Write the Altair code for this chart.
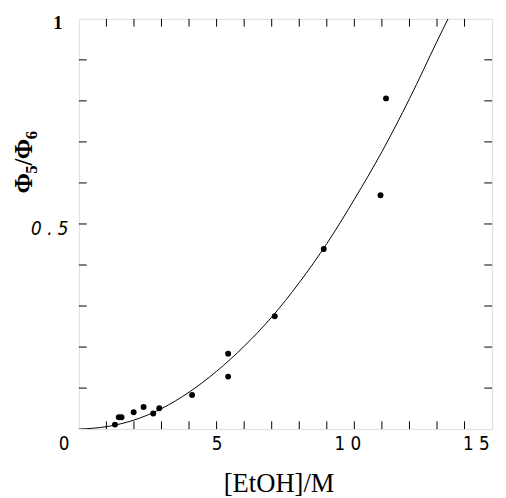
import altair as alt
import pandas as pd

# measured data points
pt_x = [1.31, 1.45, 1.55, 1.99, 2.35, 2.70, 2.92, 4.11, 5.42, 5.42, 7.11, 8.89, 10.95, 11.15]
pt_y = [0.011, 0.029, 0.029, 0.041, 0.054, 0.038, 0.051, 0.083, 0.184, 0.128, 0.275, 0.439, 0.570, 0.806]

# fitted curve
cv_x = [0, 1, 2, 3, 4, 5, 6, 7, 8, 9, 10, 11, 12, 13, 13.4]
cv_y = [0, 0.006, 0.022, 0.050, 0.090, 0.141, 0.202, 0.273, 0.357, 0.452, 0.560, 0.676, 0.805, 0.945, 1.0]

# minor tick positions
x_ticks = list(range(1, 15))
y_ticks = [0.1, 0.2, 0.3, 0.4, 0.5, 0.6, 0.7, 0.8, 0.9]

# labelled values
x_label_vals = [0, 5, 10, 15]
y_label_vals = [0.5, 1]

# y title pieces: Φ 5 / Φ 6 (subscripts)
title_parts = ["Φ", "5", "/", "Φ", "6"]
title_sub = [False, True, False, False, True]

W, H = 420, 417
T = 8
NARROW = "Liberation Sans Narrow, DejaVu Sans Condensed, sans-serif"
SERIF = "Liberation Serif, DejaVu Serif, serif"

pts = pd.DataFrame({"x": pt_x, "y": pt_y})
cv = pd.DataFrame({"x": cv_x, "y": cv_y})
xt = pd.DataFrame({"t": x_ticks})
yt = pd.DataFrame({"t": y_ticks})

xs = alt.Scale(domain=[0, 15], nice=False, zero=False)
ys = alt.Scale(domain=[0, 1], nice=False, zero=False)

x_axis = alt.Axis(
    values=x_label_vals, ticks=False, domain=False, grid=False,
    labelExpr="datum.value == 0 ? '0' : datum.value == 5 ? '5' : datum.value == 10 ? '1  0' : '1  5'",
    labelFont=NARROW, labelFontSize=19, labelColor="black", labelPadding=15,
    labelBaseline="middle",
    labelOffset={"condition": [{"test": "datum.value == 0", "value": -21},
                               {"test": "datum.value == 10", "value": -7},
                               {"test": "datum.value == 15", "value": -3}],
                 "value": 0},
    title="[EtOH]/M", titleFont=SERIF, titleFontSize=27,
    titleFontWeight="normal", titleColor="black",
    titleX=203, titleY=55, titleAlign="center", titleBaseline="middle",
)
y_axis = alt.Axis(
    values=y_label_vals, ticks=False, domain=False, grid=False,
    labelExpr="datum.value == 1 ? '1' : '0  .  5'",
    labelFont=alt.condition("datum.value == 1", alt.value("Liberation Serif"), alt.value(NARROW)),
    labelFontStyle=alt.condition("datum.value == 1", alt.value("normal"), alt.value("italic")),
    labelFontWeight=alt.condition("datum.value == 1", alt.value("bold"), alt.value("normal")),
    labelFontSize=19, labelColor="black",
    labelPadding=alt.condition("datum.value == 1", alt.value(17), alt.value(11)),
    labelBaseline="middle",
    labelOffset=alt.condition("datum.value == 1", alt.value(4), alt.value(5)),
    title=None,
)

curve = alt.Chart(cv).mark_line(color="black", strokeWidth=1, interpolate="monotone", clip=True).encode(
    x=alt.X("x:Q", scale=xs, axis=x_axis),
    y=alt.Y("y:Q", scale=ys, axis=y_axis),
)
points = alt.Chart(pts).mark_circle(color="black", opacity=1, size=36).encode(
    x=alt.X("x:Q", scale=xs), y=alt.Y("y:Q", scale=ys)
)
tb = alt.Chart(xt).mark_rule(color="black", strokeWidth=1).encode(
    x=alt.X("t:Q", scale=xs), y=alt.value(H), y2=alt.value(H - T))
tt = alt.Chart(xt).mark_rule(color="black", strokeWidth=1).encode(
    x=alt.X("t:Q", scale=xs), y=alt.value(0), y2=alt.value(T))
tl = alt.Chart(yt).mark_rule(color="black", strokeWidth=1).encode(
    y=alt.Y("t:Q", scale=ys), x=alt.value(0), x2=alt.value(T))
tr = alt.Chart(yt).mark_rule(color="black", strokeWidth=1).encode(
    y=alt.Y("t:Q", scale=ys), x=alt.value(W), x2=alt.value(W - T))

# composed rotated y-axis title (reads bottom to top), positions in plot pixels
ytitle_layers = []
y_cursor = 177  # bottom end of the title, relative to plot top
for part, sub in zip(title_parts, title_sub):
    fs = 17 if sub else 25
    w = fs * (0.5 if sub else (0.28 if part == "/" else 0.78))
    cy = y_cursor - w / 2
    y_cursor -= w
    ytitle_layers.append(
        alt.Chart(pd.DataFrame({"s": [part]})).mark_text(
            font=SERIF, fontSize=fs, fontWeight="bold", color="black",
            angle=270, align="center", baseline="middle",
        ).encode(text="s:N", x=alt.value(-48 if sub else -56), y=alt.value(cy))
    )

chart = alt.layer(curve, points, tb, tt, tl, tr, *ytitle_layers).properties(
    width=W, height=H,
    autosize=alt.AutoSizeParams(type="none"),
    padding={"left": 72, "top": 7, "right": 6, "bottom": 66},
).configure_view(stroke="black", strokeWidth=1.5).configure(background="white")

chart.save("out.html", embed_options={"renderer": "svg", "actions": False})
